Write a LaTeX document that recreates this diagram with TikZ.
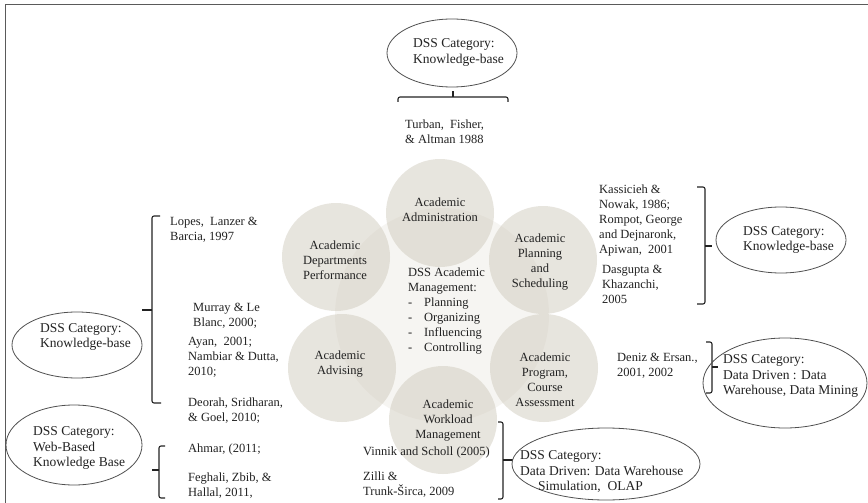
\documentclass[tikz,border=0pt]{standalone}
\usepackage{fontspec}
\setmainfont{Liberation Serif}
\usetikzlibrary{shapes.geometric}

\definecolor{petalc}{RGB}{200,194,178}
\definecolor{ink}{RGB}{34,34,34}
\definecolor{edge}{RGB}{80,80,80}
\definecolor{framec}{RGB}{90,90,90}

\begin{document}
\begin{tikzpicture}[x=1pt,y=-1pt,
  petal/.style={circle, fill=petalc, fill opacity=0.42, draw=none, minimum size=108pt, inner sep=0pt},
  core/.style={circle, fill=petalc, fill opacity=0.16, draw=none, minimum size=214pt, inner sep=0pt},
  lbl/.style={align=center, inner sep=0pt, font=\fontsize{12.5}{15}\selectfont, text=ink},
  cite/.style={align=left, anchor=west, inner sep=0pt, font=\fontsize{12.5}{15}\selectfont, text=ink},
  cat/.style={ellipse, draw=edge, line width=0.8pt, inner sep=0pt},
  cattext/.style={align=left, anchor=west, inner sep=0pt, font=\fontsize{13.5}{15.5}\selectfont, text=ink},
  brk/.style={draw=ink, line width=1.1pt, rounded corners=2pt}
]
% canvas and frame
\fill[white] (0,0) rectangle (868,503);
\useasboundingbox (0,0) rectangle (868,503);
\draw[framec, line width=1.5pt] (5.5,503) -- (5.5,4.5) -- (868,4.5);

% central hub and the six areas around it
\node[core]  (hub)  at (442,315) {};
\node[petal] (cAdm)  at (440,213) {};
\node[petal] (cPlan) at (543,260) {};
\node[petal] (cDept) at (336,257) {};
\node[petal] (cAdv)  at (342,368) {};
\node[petal] (cProg) at (544,368) {};
\node[petal] (cWork) at (443,420) {};

\node[lbl] (lAdm)  at (440,210) {Academic\\Administration};
\node[lbl] (lPlan) at (540,262.5) {Academic\\Planning\\and\\Scheduling};
\node[lbl] (lDept) at (335,260) {Academic\\Departments\\Performance};
\node[lbl] (lAdv)  at (340,364) {Academic\\Advising};
\node[lbl] (lProg) at (545,379.5) {Academic\\Program,\\Course\\Assessment};
\node[lbl] (lWork) at (448,421) {Academic\\Workload\\Management};

\node[cite] (lHub) at (408,311.5) {DSS Academic\\Management:\\
  \makebox[16pt][l]{-}Planning\\\makebox[16pt][l]{-}Organizing\\
  \makebox[16pt][l]{-}Influencing\\\makebox[16pt][l]{-}Controlling};

% top category
\node[cat, minimum width=130pt, minimum height=68pt] (eTop) at (452,53) {};
\node[cattext] (eTopT) at (413,52.5) {DSS Category:\\Knowledge-base};
\draw[brk] (398,102) -- (398,97) -- (508,97) -- (508,102);
\draw[brk] (453,97) -- (453,91);
\node[cite] (tTurban) at (405,131.5) {Turban,~ Fisher,\\\& Altman 1988};

% right upper category
\node[cite] (tKass) at (599,220.5) {Kassicieh \&\\Nowak, 1986;\\Rompot, George\\and Dejnaronk,\\Apiwan,~ 2001};
\node[cite] (tDas) at (602,284.5) {Dasgupta \&\\Khazanchi,\\2005};
\draw[brk] (697,187) -- (705,187) -- (705,304) -- (697,304);
\draw[brk] (705,246) -- (712,246);
\node[cat, minimum width=130pt, minimum height=66pt] (eR1) at (781,240) {};
\node[cattext] (eR1T) at (743,240) {DSS Category:\\Knowledge-base};

% left upper category
\node[cite] (tLopes) at (170,230) {Lopes,~ Lanzer \&\\Barcia, 1997};
\node[cite] (tMurray) at (193,315.5) {Murray \& Le\\Blanc, 2000;};
\node[cite] (tAyan) at (188,357.5) {Ayan,~ 2001;\\Nambiar \& Dutta,\\2010;};
\node[cite] (tDeorah) at (188,410.5) {Deorah, Sridharan,\\\& Goel, 2010;};
\draw[brk] (160,216) -- (152,216) -- (152,403) -- (161,403);
\draw[brk] (152,310) -- (142,310);
\node[cat, minimum width=130pt, minimum height=66pt] (eL1) at (77,345) {};
\node[cattext] (eL1T) at (40,337) {DSS Category:\\Knowledge-base};

% left lower category
\node[cite] (tAhmar) at (188,449) {Ahmar, (2011;};
\node[cite] (tFeghali) at (188,485.5) {Feghali, Zbib, \&\\Hallal, 2011,};
\draw[brk] (165,446) -- (159,446) -- (159,498) -- (165,498);
\draw[brk] (159,470) -- (152,470);
\node[cat, minimum width=136pt, minimum height=80pt] (eL2) at (74,445) {};
\node[cattext] (eL2T) at (33,448) {DSS Category:\\Web-Based\\Knowledge Base};

% right middle category
\node[cite] (tDeniz) at (617,365.5) {Deniz \& Ersan.,\\2001, 2002};
\draw[brk] (706,342) -- (712,342) -- (712,393) -- (706,393);
\draw[brk] (712,367) -- (718,367);
\node[cat, minimum width=164pt, minimum height=90pt] (eR2) at (785,383) {};
\node[cattext] (eR2T) at (723,376) {DSS Category:\\Data Driven : Data\\Warehouse, Data Mining};

% bottom category
\node[cite] (tVinnik) at (363,452) {Vinnik and Scholl (2005)};
\node[cite] (tZilli) at (363,485) {Zilli \&\\Trunk-Širca, 2009};
\draw[brk] (498,422) -- (503,422) -- (503,499) -- (498,499);
\draw[brk] (503,460) -- (513,460);
\node[cat, minimum width=188pt, minimum height=72pt] (eB) at (606,464) {};
\node[cattext] (eBT) at (520,472) {DSS Category:\\Data Driven: Data Warehouse\\\hspace*{18pt}Simulation,~ OLAP};
\end{tikzpicture}
\end{document}
